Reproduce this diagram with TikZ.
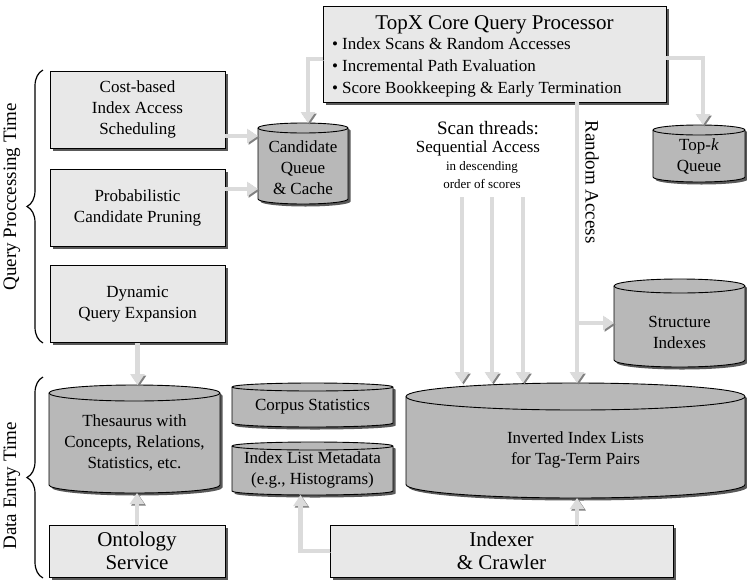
\documentclass[tikz,border=0pt]{standalone}
\usepackage{fontspec}
\setmainfont{Liberation Serif}
\usetikzlibrary{arrows.meta,positioning,calc,shadows,decorations.pathreplacing}

\definecolor{boxgray}{gray}{0.91}
\definecolor{dbgray}{gray}{0.72}
\definecolor{flowgray}{gray}{0.86}
\definecolor{flowshade}{gray}{0.50}
\definecolor{shadegray}{gray}{0.35}

% cylinder drawn round an empty node: name, x radius, y radius
\newcommand{\dbshape}[3]{%
    \path[dbbody] ([yshift=-#3]#1.north west) -- ([yshift=#3]#1.south west)
        arc[start angle=180, end angle=360, x radius=#2, y radius=#3]
        -- ([yshift=-#3]#1.north east)
        arc[start angle=0, end angle=180, x radius=#2, y radius=#3] -- cycle;
    \draw[line width=0.9pt] ([yshift=-#3]#1.north west)
        arc[start angle=180, end angle=360, x radius=#2, y radius=#3];
}

\begin{document}
\begin{tikzpicture}[x=1pt, y=-1pt,
                every node/.style={font=\fontsize{17}{21}\selectfont},
                box/.style={draw=black, line width=0.9pt, fill=boxgray, align=center, inner sep=0pt,
                    minimum width=175pt, minimum height=77pt,
                    drop shadow={shadow xshift=2.5pt, shadow yshift=-2.5pt, fill=shadegray, opacity=1}},
                db/.style={inner sep=0pt, outer sep=0pt},
                dbbody/.style={draw=black, line width=0.9pt, fill=dbgray,
                    drop shadow={shadow xshift=2.5pt, shadow yshift=-2.5pt, fill=shadegray, opacity=1}},
                dbtext/.style={align=center, inner sep=0pt},
                flow/.style={line width=4.5pt, draw=flowgray, -{Triangle[length=11pt, width=14pt]},
                    preaction={draw=flowshade, transform canvas={shift={(1.5pt,-1.5pt)}}}},
                brc/.style={decorate, decoration={brace, amplitude=16pt}, line width=1.2pt},
                big/.style={font=\fontsize{21}{23}\selectfont},
                side/.style={font=\fontsize{19}{21}\selectfont},
                small/.style={font=\fontsize{13}{16}\selectfont},
            ]
            \useasboundingbox (0,0) rectangle (747,579);
            % --- query processing side ---
            \node[box] (cost) at (137.5,109.5) {Cost-based\\Index Access\\Scheduling};
            \node[box] (prob) at (137.5,207.5) {Probabilistic\\Candidate Pruning};
            \node[box] (dyn) at (137.5,304) {Dynamic\\Query Expansion};
            \node[db, minimum width=90pt, minimum height=81pt] (cand) at (303,163.5) {};
            \dbshape{cand}{45pt}{5pt}
            \node[dbtext] (candtext) at ([yshift=-4pt]cand.center) {Candidate\\Queue\\\& Cache};
            % --- core processor ---
            \node[box, minimum width=343pt, minimum height=96pt] (topx) at (494.5,54) {};
            \node[big, anchor=north] (topxtitle) at ([yshift=-7pt]topx.north) {TopX Core Query Processor};
            \node[anchor=north west, align=left, font=\fontsize{17}{22}\selectfont] (topxlist) at (328.5,34)
                {\textbullet\ Index Scans \& Random Accesses\\
                 \textbullet\ Incremental Path Evaluation\\
                 \textbullet\ Score Bookkeeping \& Early Termination};
            \node[db, minimum width=92pt, minimum height=57pt] (topk) at (699,153.5) {};
            \dbshape{topk}{46pt}{5pt}
            \node[dbtext] (topktext) at ([yshift=-2.5pt]topk.center) {Top-\textit{k}\\Queue};
            % --- scan threads and random access ---
            \node[side] (scan1) at (488,128) {Scan threads:};
            \node (scan2) at (478,148) {Sequential Access};
            \node[small] (scan3) at (482,167) {in descending};
            \node[small] (scan4) at (482,184) {order of scores};
            \node[side, rotate=-90] (ralabel) at (592,182) {Random Access};
            \node[db, minimum width=131pt, minimum height=88pt] (struct) at (679.5,323) {};
            \dbshape{struct}{65.5pt}{7pt}
            \node[dbtext] (structtext) at ([yshift=-9pt]struct.center) {Structure\\Indexes};
            % --- data side ---
            \node[db, minimum width=339pt, minimum height=115pt] (inv) at (575.5,440.5) {};
            \dbshape{inv}{169.5pt}{13.5pt}
            \node[dbtext] (invtext) at ([yshift=-9.5pt]inv.center) {Inverted Index Lists\\for Tag-Term Pairs};
            \node[db, minimum width=171pt, minimum height=108pt] (thes) at (134.5,439) {};
            \dbshape{thes}{85.5pt}{8pt}
            \node[dbtext] (thestext) at ([yshift=-4pt]thes.center) {Thesaurus with\\Concepts, Relations,\\Statistics, etc.};
            \node[db, minimum width=161pt, minimum height=44pt] (corpus) at (312.5,405) {};
            \dbshape{corpus}{80.5pt}{4pt}
            \node[dbtext] (corpustext) at ([yshift=-2pt]corpus.center) {Corpus Statistics};
            \node[db, minimum width=161pt, minimum height=53pt] (meta) at (312.5,468.5) {};
            \dbshape{meta}{80.5pt}{4pt}
            \node[dbtext] (metatext) at ([yshift=-1.5pt]meta.center) {Index List Metadata\\(e.g., Histograms)};
            \node[box, big, minimum width=176pt, minimum height=52pt] (onto) at (137,551) {Ontology\\Service};
            \node[box, big, minimum width=343pt, minimum height=52pt] (idx) at (501.5,551) {Indexer\\\& Crawler};
            % --- braces ---
            \coordinate (qpTop) at (43,70);
            \coordinate (qpBot) at (43,343);
            \coordinate (deTop) at (43,377);
            \coordinate (deBot) at (43,578);
            \draw[brc] (qpBot) -- (qpTop);
            \draw[brc] (deBot) -- (deTop);
            \node[side, rotate=90] (qplabel) at (12,197) {Query Proccessing Time};
            \node[side, rotate=90] (delabel) at (12,486) {Data Entry Time};
            % --- connectors ---
            \draw[flow] ([yshift=-26.5pt]cost.east) -- ([yshift=-26.5pt]cost.east -| cand.west);
            \draw[flow] ([yshift=18.5pt]prob.east) -- ([yshift=18.5pt]prob.east -| cand.west);
            \draw[flow] ([yshift=-5pt]topx.west) -| ([xshift=5pt]cand.north);
            \draw[flow] ([yshift=-4pt]topx.east) -| ([xshift=4pt]topk.north);
            \foreach \dx in {-20,10,41} \draw[flow] ([xshift=\dx pt, yshift=-5pt]scan4.south) -- ([xshift=\dx pt]scan4.south |- inv.north);
            \coordinate (raTop) at ([xshift=82.5pt]topx.south);
            \draw[flow] (raTop) -- (raTop |- inv.north);
            \draw[flow] (raTop |- struct.west) -- (struct.west);
            \draw[flow] (dyn.south) -- (dyn.south |- thes.north);
            \draw[flow] (onto.north) -- (onto.north |- thes.south);
            \draw[flow] (idx.west) -| ([xshift=-12pt]meta.south);
            \draw[flow] ([xshift=75.5pt]idx.north) -- ([xshift=75.5pt]idx.north |- inv.south);
        \end{tikzpicture}
\end{document}
